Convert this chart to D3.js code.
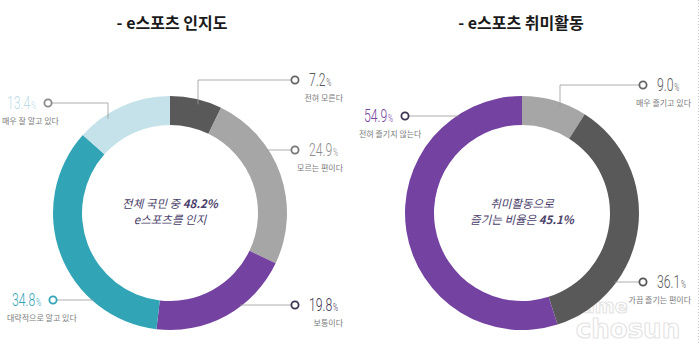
<!DOCTYPE html>
<html><head><meta charset="utf-8">
<script src="https://cdn.jsdelivr.net/npm/d3@7"></script>
<style>
html,body{margin:0;padding:0;background:#fff;}
svg{display:block;}
</style></head>
<body>
<svg id="c" width="700" height="344"></svg>
<script>
// ---- data ----
const leftTitle = "- e스포츠 인지도";
const leftCats = ["전혀 모른다", "모르는 편이다", "보통이다", "대략적으로 알고 있다", "매우 잘 알고 있다"];
const leftVals = [7.2, 24.9, 19.8, 34.8, 13.4];
const rightTitle = "- e스포츠 취미활동";
const rightCats = ["매우 즐기고 있다", "가끔 즐기는 편이다", "전혀 즐기지 않는다"];
const rightVals = [9.0, 36.1, 54.9];

// ---- styles / layout ----
const leftColors = ["#595959", "#a6a6a6", "#7442a0", "#31a5b6", "#c5e1ea"];
const leftNumColors = ["#595959", "#8c8c8c", "#3f3553", "#31a5b6", "#bcdbe6"];
const leftMarkColors = ["#666", "#777", "#3f3553", "#31a5b6", "#8a8a8a"];
const rightColors = ["#a6a6a6", "#595959", "#7442a0"];
const rightNumColors = ["#595959", "#595959", "#7442a0"];
const rightMarkColors = ["#666", "#555", "#3f3553"];
const R = 117, r = 88;
const charts = [
  {title: leftTitle, cats: leftCats, vals: leftVals, colors: leftColors, numColors: leftNumColors, markColors: leftMarkColors,
   cx: 170, cy: 213, titleX: 172,
   labels: [
     {mx: 295, my: 80, side: "r", elbowX: 198},
     {mx: 295, my: 150, side: "r"},
     {mx: 295, my: 305, side: "r"},
     {mx: 53, my: 300, side: "l"},
     {mx: 48, my: 103, side: "l", elbowX: 108}
   ],
   center: [["전체 국민 중 ", "48.2%"], ["e스포츠를 인지", ""]]},
  {title: rightTitle, cats: rightCats, vals: rightVals, colors: rightColors, numColors: rightNumColors, markColors: rightMarkColors,
   cx: 522, cy: 213, titleX: 521,
   labels: [
     {mx: 643, my: 85, side: "r", elbowX: 560},
     {mx: 643, my: 282, side: "r"},
     {mx: 405, my: 116, side: "l"}
   ],
   center: [["취미활동으로", ""], ["즐기는 비율은  ", "45.1%"]]}
];

const svg = d3.select("#c");
const KR = "'Noto Sans CJK KR','Noto Sans',sans-serif";

// faint watermark (drawn first, behind everything)
const wm = svg.append("g").attr("opacity", 0.3);
wm.append("text").attr("x", 598).attr("y", 313).attr("font-family", "'DejaVu Sans',sans-serif")
  .attr("font-weight", 700).attr("font-size", 19).attr("fill", "#fff").attr("stroke", "#a8a8a8").attr("stroke-width", 1.2)
  .attr("text-anchor", "middle").text("game");
wm.append("text").attr("x", 628).attr("y", 338).attr("font-family", "'DejaVu Sans',sans-serif")
  .attr("font-weight", 700).attr("font-size", 26).attr("fill", "#fff").attr("stroke", "#a8a8a8").attr("stroke-width", 1.2)
  .attr("text-anchor", "middle").text("chosun");

// dotted right edge
svg.append("line").attr("x1", 698.5).attr("x2", 698.5).attr("y1", 0).attr("y2", 344)
  .attr("stroke", "#c8c8c8").attr("stroke-width", 1).attr("stroke-dasharray", "1,2");

charts.forEach(ch => {
  const g = svg.append("g").attr("transform", `translate(${ch.cx},${ch.cy})`);
  const pie = d3.pie().sort(null).value(d => d)(ch.vals);
  const arc = d3.arc().innerRadius(r).outerRadius(R);
  g.selectAll("path.s").data(pie).join("path").attr("class", "s")
    .attr("d", arc).attr("fill", (d, i) => ch.colors[i]);

  // title
  svg.append("text").attr("x", ch.titleX).attr("y", 29)
    .attr("text-anchor", "middle").attr("font-family", KR)
    .attr("font-weight", 700).attr("font-size", 16).attr("fill", "#1a1a1a")
    .text(ch.title);

  // center text
  ch.center.forEach((ln, k) => {
    const t = g.append("text").attr("x", 0).attr("y", -5 + k * 16)
      .attr("text-anchor", "middle").attr("font-family", KR)
      .attr("font-size", 11.5).attr("font-style", "italic").attr("fill", "#4a3f6b");
    t.append("tspan").text(ln[0]);
    if (ln[1]) t.append("tspan").attr("font-weight", 700).text(ln[1]);
  });

  // labels
  ch.labels.forEach((L, i) => {
    const lx = L.mx - ch.cx, ly = L.my - ch.cy;
    let pts;
    if (L.elbowX !== undefined) {
      const ex = L.elbowX - ch.cx;
      const ey = -Math.sqrt(R * R - ex * ex) + 5;
      pts = [[lx + (L.side === "r" ? -4 : 4), ly], [ex, ly], [ex, ey]];
    } else {
      const dx = Math.sqrt(R * R - ly * ly) - 2;
      const ex = L.side === "r" ? dx : -dx;
      pts = [[lx + (L.side === "r" ? -4 : 4), ly], [ex, ly]];
    }
    g.append("path").attr("d", d3.line()(pts)).attr("fill", "none")
      .attr("stroke", "#9a9a9a").attr("stroke-width", 0.8);
    g.append("circle").attr("cx", lx).attr("cy", ly).attr("r", 3.6)
      .attr("fill", "#fff").attr("stroke", ch.markColors[i])
      .attr("stroke-width", 1.8);

    const v = ch.vals[i].toFixed(1);
    const numX = L.side === "r" ? L.mx + 14 : L.mx - 12;
    const ng = g.append("g").attr("transform", `translate(${numX - ch.cx},${ly + 6}) scale(0.68,1)`);
    const nt = ng.append("text").attr("text-anchor", L.side === "r" ? "start" : "end")
      .attr("font-family", "Roboto, 'DejaVu Sans', sans-serif").attr("font-weight", 300)
      .attr("fill", ch.numColors[i]);
    nt.append("tspan").attr("font-size", 18).text(v);
    nt.append("tspan").attr("font-size", 10).attr("dx", 1).text("%");

    g.append("text").attr("x", (L.side === "r" ? (L.mx + 48) : (L.mx - 46)) - ch.cx)
      .attr("y", ly + 21).attr("text-anchor", L.side === "r" ? "end" : "start")
      .attr("font-family", KR).attr("font-size", 8).attr("fill", "#7a7a7a")
      .text(ch.cats[i]);
  });
});
</script>
</body></html>
